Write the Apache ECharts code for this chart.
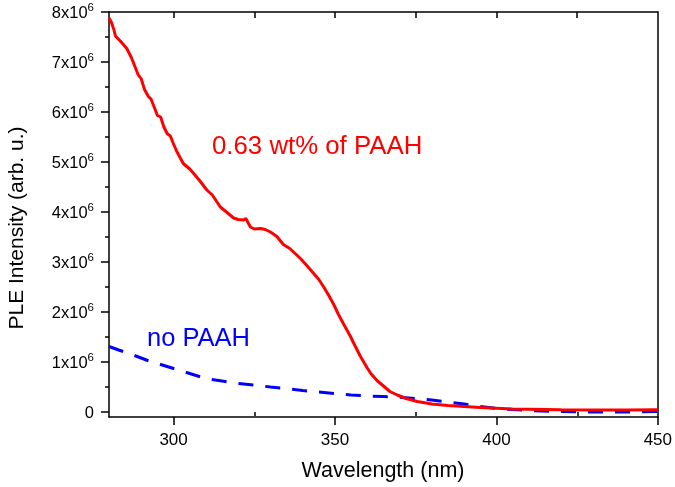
<!DOCTYPE html>
<html>
<head>
<meta charset="utf-8">
<script src="https://cdn.jsdelivr.net/npm/echarts@6/dist/echarts.min.js"></script>
<style>
html,body{margin:0;padding:0;background:#fff;}
#chart{width:675px;height:487px;}
</style>
</head>
<body>
<div id="chart"></div>
<script>
// Wavelength (nm) and PLE intensity (units of 1e6, arb. u.)
const redWavelength = [280,280.7,281.5,282,283.5,285.5,287,289,290,291,292.2,293,294,295,296,297,298,299,300,301,303,305,306.5,308.3,310.3,312,314.5,316,318.6,320,321.7,322.4,323.8,325,327,328.4,330,332,334,336,338,339.3,341,343.4,345,346.5,348,349.7,351,352.5,354.8,356,357.9,360,361.1,363,365.2,367,369.3,372,375.5,380,385,390,395,400,405,410,420,430,440,450];
const redIntensity = [7.88,7.80,7.65,7.52,7.42,7.27,7.08,6.75,6.66,6.45,6.31,6.26,6.10,5.93,5.90,5.70,5.57,5.52,5.36,5.21,4.97,4.86,4.75,4.61,4.44,4.34,4.10,4.02,3.88,3.85,3.84,3.87,3.70,3.66,3.67,3.65,3.60,3.51,3.35,3.27,3.15,3.07,2.95,2.77,2.65,2.50,2.34,2.14,1.96,1.78,1.51,1.35,1.11,0.88,0.77,0.63,0.51,0.41,0.34,0.27,0.21,0.16,0.13,0.11,0.09,0.075,0.06,0.055,0.045,0.04,0.04,0.045];
const blueWavelength = [280,283,287.5,292,296,300,305,310,315,320,325,330,335,340,345,350,355,360,365,369,375,380,385,390,395,400,405,410,420,430,440,450];
const blueIntensity = [1.31,1.24,1.14,1.03,0.95,0.87,0.77,0.67,0.62,0.57,0.54,0.50,0.47,0.43,0.40,0.37,0.34,0.32,0.31,0.30,0.27,0.24,0.20,0.16,0.11,0.07,0.05,0.03,0.01,0.0,0.0,0.01];
const xTicks = [300,350,400,450];
const xMinorTicks = [325,375,425];
const xTopTicks = [300,325,350,375,400,425];
const yTicks = [0,1,2,3,4,5,6,7,8];
const yMinorTicks = [0.5,1.5,2.5,3.5,4.5,5.5,6.5,7.5];
const labels = {red:'0.63 wt% of PAAH', blue:'no PAAH', x:'Wavelength (nm)', y:'PLE Intensity (arb. u.)'};

const FONT = '"Liberation Sans", Arial, sans-serif';
const X_MIN = 280, X_MAX = 450, Y_MIN = -0.1, Y_MAX = 8;
const black = '#000';
const gridBox = {left:109, right:17, top:12, bottom:70};

const chart = echarts.init(document.getElementById('chart'), null, {renderer:'canvas'});
const zip = (a,b) => a.map((v,i)=>[v,b[i]]);

const option = {
  animation:false,
  backgroundColor:'#fff',
  grid:[Object.assign({}, gridBox), Object.assign({}, gridBox)],
  xAxis:[
    {type:'value', gridIndex:0, position:'bottom', min:X_MIN, max:X_MAX,
     axisLine:{show:true, onZero:false, lineStyle:{color:black, width:1.5}},
     axisTick:{show:true, inside:false, length:8, customValues:xTicks, lineStyle:{color:black, width:1.5}},
     axisLabel:{show:true, customValues:xTicks, margin:15, color:black, fontSize:17, fontFamily:FONT},
     splitLine:{show:false}},
    {type:'value', gridIndex:0, position:'top', min:X_MIN, max:X_MAX,
     axisLine:{show:true, onZero:false, lineStyle:{color:black, width:1.5}},
     axisTick:{show:true, inside:true, length:6, customValues:xTopTicks, lineStyle:{color:black, width:1.5}},
     axisLabel:{show:false}, splitLine:{show:false}},
    {type:'value', gridIndex:1, position:'bottom', min:X_MIN, max:X_MAX,
     axisLine:{show:false},
     axisTick:{show:true, inside:false, length:4, customValues:xMinorTicks, lineStyle:{color:black, width:1.5}},
     axisLabel:{show:false}, splitLine:{show:false}}
  ],
  yAxis:[
    {type:'value', gridIndex:0, position:'left', min:Y_MIN, max:Y_MAX,
     axisLine:{show:true, onZero:false, lineStyle:{color:black, width:1.5}},
     axisTick:{show:true, inside:false, length:8, customValues:yTicks, lineStyle:{color:black, width:1.5}},
     axisLabel:{show:true, customValues:yTicks, margin:15, color:black, fontSize:16, fontFamily:FONT,
       formatter:(v)=> v===0 ? '{a|0}' : '{a|'+v+'x10}{s|6}',
       rich:{a:{fontSize:16.5, fontFamily:FONT, color:black, lineHeight:20, verticalAlign:'bottom'},
             s:{fontSize:11.5, fontFamily:FONT, color:black, lineHeight:20, verticalAlign:'top'}}},
     splitLine:{show:false}},
    {type:'value', gridIndex:0, position:'right', min:Y_MIN, max:Y_MAX,
     axisLine:{show:true, onZero:false, lineStyle:{color:black, width:1.5}},
     axisTick:{show:false}, axisLabel:{show:false}, splitLine:{show:false}},
    {type:'value', gridIndex:1, position:'left', min:Y_MIN, max:Y_MAX,
     axisLine:{show:false},
     axisTick:{show:true, inside:false, length:4, customValues:yMinorTicks, lineStyle:{color:black, width:1.5}},
     axisLabel:{show:false}, splitLine:{show:false}}
  ],
  series:[
    {name:labels.blue, type:'line', xAxisIndex:0, yAxisIndex:0, data:zip(blueWavelength, blueIntensity),
     showSymbol:false, smooth:false, lineStyle:{color:'#0000ff', width:3, type:[15,12]}, z:2},
    {name:labels.red, type:'line', xAxisIndex:0, yAxisIndex:0, data:zip(redWavelength, redIntensity),
     showSymbol:false, smooth:false, lineStyle:{color:'#ff0000', width:3}, z:3}
  ],
  graphic:[
    {type:'text', x:212, y:147, style:{text:labels.red, fill:'#ff0000', font:'25.8px '+FONT, align:'left', verticalAlign:'middle'}},
    {type:'text', x:147, y:339, style:{text:labels.blue, fill:'#0000ff', font:'25.5px '+FONT, align:'left', verticalAlign:'middle'}},
    {type:'text', x:383, y:471, style:{text:labels.x, fill:black, font:'21.5px '+FONT, align:'center', verticalAlign:'middle'}},
    {type:'text', x:17, y:228, rotation:Math.PI/2, style:{text:labels.y, fill:black, font:'21px '+FONT, align:'center', verticalAlign:'middle'}}
  ]
};
chart.setOption(option);
</script>
</body>
</html>
